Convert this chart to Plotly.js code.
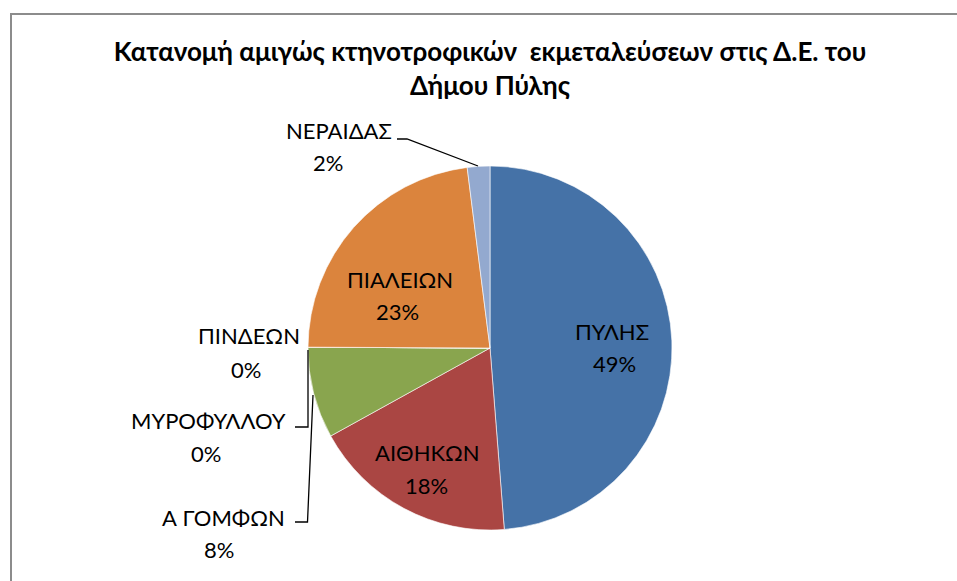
<!DOCTYPE html>
<html>
<head>
<meta charset="utf-8">
<script src="https://cdn.plot.ly/plotly-3.0.1.min.js"></script>
<style>
  html, body { margin: 0; padding: 0; background: #ffffff; }
  #wrap { position: relative; width: 957px; height: 581px; overflow: hidden; }
  #chart { position: absolute; left: 0; top: 0; width: 957px; height: 581px; }
  #frame { position: absolute; left: 10px; top: 13px; width: 990px; height: 620px;
           border: 2px solid #8c8c8c; pointer-events: none; box-sizing: border-box; }
</style>
</head>
<body>
<div id="wrap">
  <div id="chart"></div>
  <div id="frame"></div>
</div>
<script>
// ---- data ----
const labels = ["ΠΥΛΗΣ", "ΑΙΘΗΚΩΝ", "Α ΓΟΜΦΩΝ", "ΜΥΡΟΦΥΛΛΟΥ", "ΠΙΝΔΕΩΝ", "ΠΙΑΛΕΙΩΝ", "ΝΕΡΑΙΔΑΣ"];
const values = [48.7, 18.2, 8.1, 0, 0, 22.9, 2.0];
const colors = ["#4572A7", "#AA4643", "#89A54E", "#71588F", "#4198AF", "#DB843D", "#93A9CF"];
const titleText = "Κατανομή αμιγώς κτηνοτροφικών  εκμεταλεύσεων στις Δ.Ε. του<br>Δήμου Πύλης";

// ---- label placement (pixel centres of the label line and the percent line) ----
const labelPos = [
  [612, 331, 614, 363.5],
  [427.5, 452, 426, 485],
  [223, 517.5, 219, 549.5],
  [208.5, 420.5, 206, 453],
  [248.5, 335.5, 246, 369],
  [399.5, 279.5, 397, 311.5],
  [338.5, 130, 328, 162.5]
];

const W = 957, H = 581;
const px = x => x / W;
const py = y => 1 - y / H;
const total = values.reduce((a, b) => a + b, 0);
const pct = v => Math.round(v / total * 100) + "%";

const FONT = "Lato, 'Open Sans', sans-serif";
const LABEL_SIZE = 22;

const annotations = [];
labels.forEach((lab, i) => {
  const p = labelPos[i];
  const base = {
    xref: "paper", yref: "paper", xanchor: "center", yanchor: "middle",
    showarrow: false, font: { family: FONT, size: LABEL_SIZE, color: "#000000" }
  };
  annotations.push(Object.assign({}, base, { x: px(p[0]), y: py(p[1]), text: lab }));
  annotations.push(Object.assign({}, base, { x: px(p[2]), y: py(p[3]), text: pct(values[i]) }));
});

const leader = pts => ({
  type: "path", xref: "paper", yref: "paper",
  path: "M" + pts.map(p => px(p[0]) + "," + py(p[1])).join(" L"),
  line: { color: "#000000", width: 1.3 }
});
const shapes = [
  leader([[397, 139], [407, 139], [478, 166]]),
  leader([[308, 350], [308, 427], [295, 427]]),
  leader([[313, 395], [307.5, 522], [295, 522]])
];

const trace = {
  type: "pie",
  labels: labels,
  values: values,
  sort: false,
  direction: "clockwise",
  rotation: 0,
  marker: { colors: colors, line: { color: "#ffffff", width: 0.6 } },
  textinfo: "none",
  hoverinfo: "label+percent",
  domain: { x: [px(308), px(672)], y: [py(530), py(166)] },
  showlegend: false
};

const layout = {
  width: W, height: H,
  margin: { l: 0, r: 0, t: 0, b: 0 },
  paper_bgcolor: "#ffffff",
  showlegend: false,
  title: {
    text: titleText,
    font: { family: FONT, size: 26, color: "#000000", weight: "bold" },
    x: px(490), xanchor: "center",
    y: py(61), yanchor: "middle"
  },
  annotations: annotations,
  shapes: shapes
};

Plotly.newPlot("chart", [trace], layout, { displayModeBar: false, staticPlot: true });
</script>
</body>
</html>
